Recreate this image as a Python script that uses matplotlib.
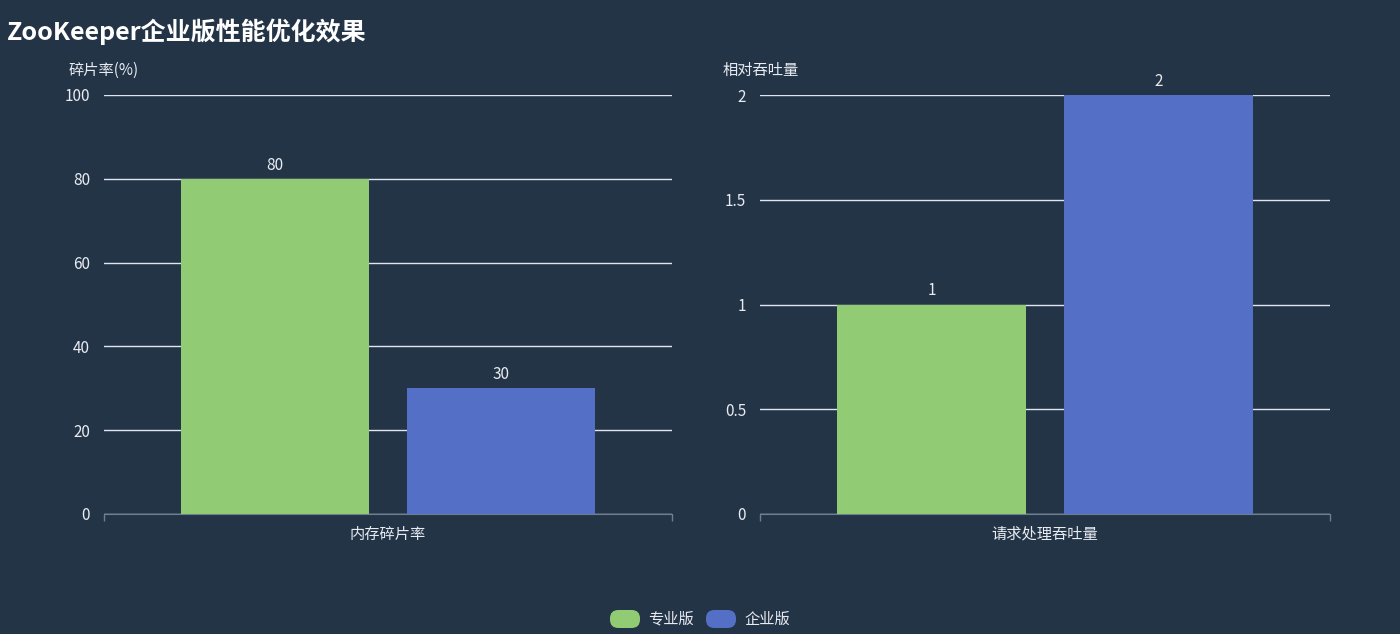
import matplotlib.pyplot as plt
from matplotlib.patches import FancyBboxPatch

plt.rcParams['font.family'] = ['Noto Sans CJK SC', 'DejaVu Sans']

# data
series_names = ["专业版", "企业版"]
series_colors = ["#91cc75", "#5470c6"]
left_category = ["内存碎片率"]
left_values = [80, 30]
left_ticks = [0, 20, 40, 60, 80, 100]
left_ticklabels = ["0", "20", "40", "60", "80", "100"]
right_category = ["请求处理吞吐量"]
right_values = [1, 2]
right_ticks = [0, 0.5, 1, 1.5, 2]
right_ticklabels = ["0", "0.5", "1", "1.5", "2"]

bg = "#243447"
txt = "#e8ecf2"
W, H = 1400, 634

fig = plt.figure(figsize=(W / 100, H / 100), dpi=100, facecolor=bg)


def make_panel(x0, x1, cat, vals, ticks, ticklabels, ymax, ylabel, ylabel_x):
    ax = fig.add_axes([x0 / W, 1 - 514 / H, (x1 - x0) / W, (514 - 95) / H])
    ax.set_facecolor(bg)
    offs = [-0.199, 0.199]
    for i, v in enumerate(vals):
        ax.bar(offs[i], v, width=0.331, color=series_colors[i], zorder=3)
        lab = ticklabels[ticks.index(v)] if v in ticks else str(v)
        ax.text(offs[i], v + ymax * 0.012, lab, ha="center", va="bottom",
                color=txt, fontsize=11, zorder=4)
    ax.set_xlim(-0.5, 0.5)
    ax.set_ylim(0, ymax)
    ax.set_yticks(ticks)
    ax.set_yticklabels(ticklabels)
    ax.yaxis.grid(True, color="#e0e6f1", linewidth=1, zorder=0)
    ax.tick_params(axis="y", length=0, colors=txt, labelsize=11, pad=10)
    ax.set_xticks([-0.5, 0.5])
    ax.set_xticklabels(["", ""])
    ax.tick_params(axis="x", length=5, color="#6e7f91", width=1)
    ax.text(0, -0.028, cat[0], transform=ax.get_xaxis_transform(),
            ha="center", va="top", color=txt, fontsize=11)
    for s in ["top", "right", "left"]:
        ax.spines[s].set_visible(False)
    ax.spines["bottom"].set_color("#6e7f91")
    fig.text(ylabel_x / W, 1 - 70 / H, ylabel, ha="left", va="center",
             color=txt, fontsize=11)
    return ax


make_panel(104, 672, left_category, left_values, left_ticks, left_ticklabels,
           100, "碎片率(%)", 69)
make_panel(760, 1330, right_category, right_values, right_ticks, right_ticklabels,
           2, "相对吞吐量", 723)

fig.text(7 / W, 1 - 32 / H, "ZooKeeper企业版性能优化效果", ha="left", va="center",
         color="#ffffff", fontsize=18, fontweight="bold")

# legend
lx = [610, 706]
for i, name in enumerate(series_names):
    box = FancyBboxPatch((lx[i] / W, 1 - 628 / H), 30 / W, 18 / H,
                         boxstyle="round,pad=0,rounding_size=0.006",
                         transform=fig.transFigure, facecolor=series_colors[i],
                         edgecolor="none", mutation_aspect=W / H)
    fig.patches.append(box)
    fig.text((lx[i] + 38) / W, 1 - 619 / H, name, ha="left", va="center",
             color=txt, fontsize=11)

fig.savefig("out.png", dpi=100, facecolor=bg)
